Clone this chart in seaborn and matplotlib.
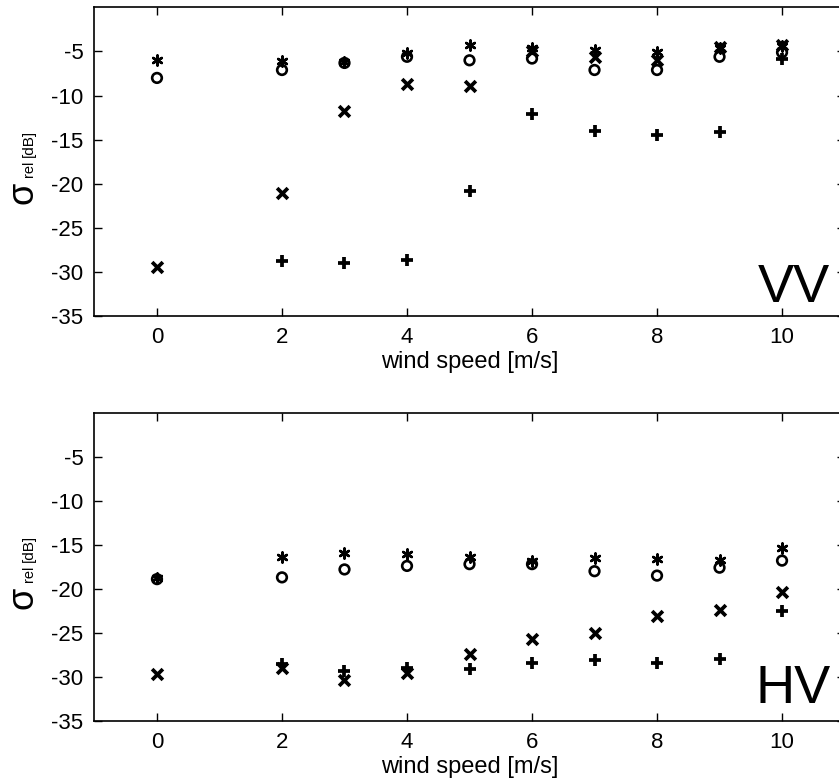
import numpy as np
import pandas as pd
import matplotlib
matplotlib.use("Agg")
import matplotlib.pyplot as plt
import seaborn as sns

# wind speeds [m/s]
wind_speed = [0, 2, 3, 4, 5, 6, 7, 8, 9, 10]

# VV polarisation, relative backscatter [dB]
vv_asterisk = [-6.0, -6.1, -6.2, -5.2, -4.3, -4.6, -4.8, -5.1, -4.6, -4.4]
vv_circle = [-8.0, -7.1, -6.3, -5.6, -6.0, -5.8, -7.1, -7.1, -5.6, -5.1]
vv_cross = [-29.4, -21.1, -11.8, -8.7, -8.9, -5.0, -5.6, -6.0, -4.5, -4.3]
vv_plus = [np.nan, -28.75, -29.0, -28.7, -20.8, -12.1, -14.0, -14.5, -14.1, -5.8]

# HV polarisation, relative backscatter [dB]
hv_asterisk = [-18.8, -16.4, -15.9, -16.0, -16.4, -16.8, -16.5, -16.6, -16.7, -15.4]
hv_circle = [-18.9, -18.7, -17.8, -17.4, -17.2, -17.2, -18.0, -18.5, -17.6, -16.8]
hv_cross = [-29.7, -29.0, -30.3, -29.6, -27.4, -25.7, -25.0, -23.1, -22.4, -20.4]
hv_plus = [np.nan, -28.5, -29.3, -29.0, -29.1, -28.4, -28.1, -28.4, -28.0, -22.5]

x_ticks = [0, 2, 4, 6, 8, 10]
y_ticks = [-35, -30, -25, -20, -15, -10, -5]

sns.set_theme(style="white")
plt.rcParams["font.family"] = ["Liberation Sans", "DejaVu Sans"]

fig = plt.figure(figsize=(8.39, 7.80), dpi=100)
fig.patch.set_facecolor("white")

ax_w = 0.894
ax_h = 0.3955
ax_top = fig.add_axes([0.1126, 0.5950, ax_w, ax_h])
ax_bot = fig.add_axes([0.1126, 0.0756, ax_w, ax_h])


def draw_panel(ax, asterisk, circle, cross, plus, tag, tag_y):
    df = pd.DataFrame({"ws": wind_speed, "ast": asterisk, "circ": circle,
                       "cross": cross, "plus": plus})
    sns.scatterplot(data=df, x="ws", y="circ", ax=ax, marker="o", s=48,
                    color="black", facecolors="none", edgecolor="black",
                    linewidth=1.9, zorder=3)
    sns.scatterplot(data=df, x="ws", y="ast", ax=ax, marker=(6, 2, 0), s=52,
                    color="black", linewidth=1.8, zorder=4)
    sns.scatterplot(data=df, x="ws", y="cross", ax=ax, marker="x", s=60,
                    color="black", linewidth=2.7, zorder=5)
    sns.scatterplot(data=df, x="ws", y="plus", ax=ax, marker="+", s=70,
                    color="black", linewidth=2.7, zorder=6)

    ax.set_xlim(-1, 11)
    ax.set_ylim(-35, 0)
    ax.set_xticks(x_ticks)
    ax.set_yticks(y_ticks)
    ax.set_xticklabels([str(v) for v in x_ticks], fontsize=16)
    ax.set_yticklabels([str(v) for v in y_ticks], fontsize=16)
    ax.tick_params(direction="in", length=6, width=1.0, color="black",
                   top=True, right=True, bottom=True, left=True,
                   labelcolor="black")
    ax.tick_params(axis="x", pad=8)
    ax.tick_params(axis="y", pad=8)
    for sp in ax.spines.values():
        sp.set_visible(True)
        sp.set_color("black")
        sp.set_linewidth(1.2)
    ax.set_xlabel("wind speed [m/s]", fontsize=17, labelpad=2, color="black")
    ax.set_ylabel("")

    # y-axis label: large sigma with small subscript and unit
    ax.text(-0.0947, 0.40, "σ", transform=ax.transAxes, rotation=90,
            ha="center", va="center", fontsize=26, color="black")
    ax.text(-0.0868, 0.478, "rel", transform=ax.transAxes, rotation=90,
            ha="center", va="center", fontsize=10.5, color="black")
    ax.text(-0.0880, 0.560, "[dB]", transform=ax.transAxes, rotation=90,
            ha="center", va="center", fontsize=11, color="black")

    ax.text(0.981, tag_y, tag, transform=ax.transAxes, ha="right",
            va="baseline", fontsize=39, color="black")


draw_panel(ax_top, vv_asterisk, vv_circle, vv_cross, vv_plus, "VV", 0.045)
draw_panel(ax_bot, hv_asterisk, hv_circle, hv_cross, hv_plus, "HV", 0.06)

fig.savefig("out.png", dpi=100, facecolor="white")
